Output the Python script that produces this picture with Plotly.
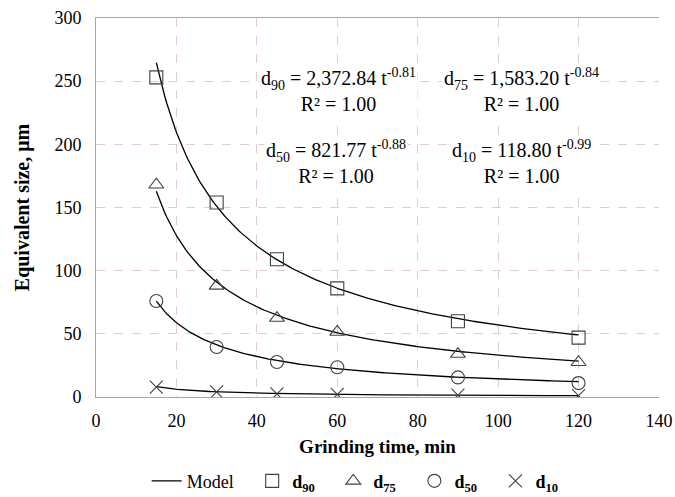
import numpy as np
import plotly.graph_objects as go

# Data
t_min = [15, 30, 45, 60, 90, 120]
d90 = [253, 154, 109, 86, 60, 47]
d75 = [168, 88, 62.5, 51.5, 34, 27.5]
d50 = [76, 39.6, 27.7, 23.5, 15.5, 11]
d10 = [7.9, 4.0, 2.4, 2.0, 1.4, 1.1]

# Fitted power-law model coefficients shown on the chart: d = a * t^b
model_names = ["d90", "d75", "d50", "d10"]
model_a = [2372.84, 1583.20, 821.77, 118.80]
model_b = [-0.81, -0.84, -0.88, -0.99]
model_t_range = [15, 120]

x_ticks = [0, 20, 40, 60, 80, 100, 120, 140]
y_ticks = [0, 50, 100, 150, 200, 250, 300]

FONT = "Liberation Serif"
MARK = "#404040"
PAD = "&nbsp;" * 3

fig = go.Figure()

t_fit = np.linspace(model_t_range[0], model_t_range[1], 200)
for i, (a, b) in enumerate(zip(model_a, model_b)):
    fig.add_trace(go.Scatter(
        x=t_fit, y=a * t_fit ** b, mode="lines",
        line=dict(color="black", width=1.3),
        name="Model" + PAD, legendgroup="model", showlegend=(i == 0),
    ))

series = [
    ("<b>d</b><sub><b>90</b></sub>" + PAD, d90, "square-open"),
    ("<b>d</b><sub><b>75</b></sub>" + PAD, d75, "triangle-up-open"),
    ("<b>d</b><sub><b>50</b></sub>" + PAD, d50, "circle-open"),
    ("<b>d</b><sub><b>10</b></sub>", d10, "x-thin-open"),
]
for name, vals, sym in series:
    fig.add_trace(go.Scatter(
        x=t_min, y=vals, mode="markers", name=name,
        marker=dict(symbol=sym, size=13, color=MARK,
                    line=dict(color=MARK, width=1.1)),
    ))

ann = [
    (60.2, 243, "d<sub>90</sub> = 2,372.84 t<sup>-0.81</sup><br>R² = 1.00"),
    (105.7, 243, "d<sub>75</sub> = 1,583.20 t<sup>-0.84</sup><br>R² = 1.00"),
    (59.7, 186, "d<sub>50</sub> = 821.77 t<sup>-0.88</sup><br>R² = 1.00"),
    (105.7, 186, "d<sub>10</sub> = 118.80 t<sup>-0.99</sup><br>R² = 1.00"),
]
for x, y, txt in ann:
    fig.add_annotation(x=x, y=y, text=txt, showarrow=False,
                       font=dict(family=FONT, size=20, color="black"),
                       bgcolor="white", xanchor="center", yanchor="middle")

fig.update_layout(
    width=675, height=497,
    margin=dict(l=96, r=16, t=18, b=100, autoexpand=False),
    paper_bgcolor="white", plot_bgcolor="white",
    font=dict(family=FONT, size=18, color="black"),
    showlegend=True,
    legend=dict(orientation="h", x=0.09, xanchor="left", y=-0.222,
                yanchor="middle", font=dict(family=FONT, size=18),
                itemwidth=30, bgcolor="rgba(0,0,0,0)"),
)
fig.update_xaxes(
    range=[0, 140], tickvals=x_ticks, ticks="", ticklabelstandoff=7,
    showgrid=True, gridcolor="#e3cccc", griddash="dash", gridwidth=1,
    showline=True, linecolor="#a6a6a6", linewidth=1, mirror=True,
    zeroline=False,
    title=dict(text="<b>Grinding time, min</b>", font=dict(family=FONT, size=19), standoff=10),
    tickfont=dict(family=FONT, size=18),
)
fig.update_yaxes(
    range=[0, 300], tickvals=y_ticks, ticks="", ticklabelstandoff=10,
    showgrid=True, gridcolor="#e3cccc", griddash="dash", gridwidth=1,
    showline=True, linecolor="#a6a6a6", linewidth=1, mirror=False,
    zeroline=False,
    title=dict(text="<b>Equivalent size, μm</b>", font=dict(family=FONT, size=20), standoff=19),
    tickfont=dict(family=FONT, size=18),
)

fig.write_html("out.html")
